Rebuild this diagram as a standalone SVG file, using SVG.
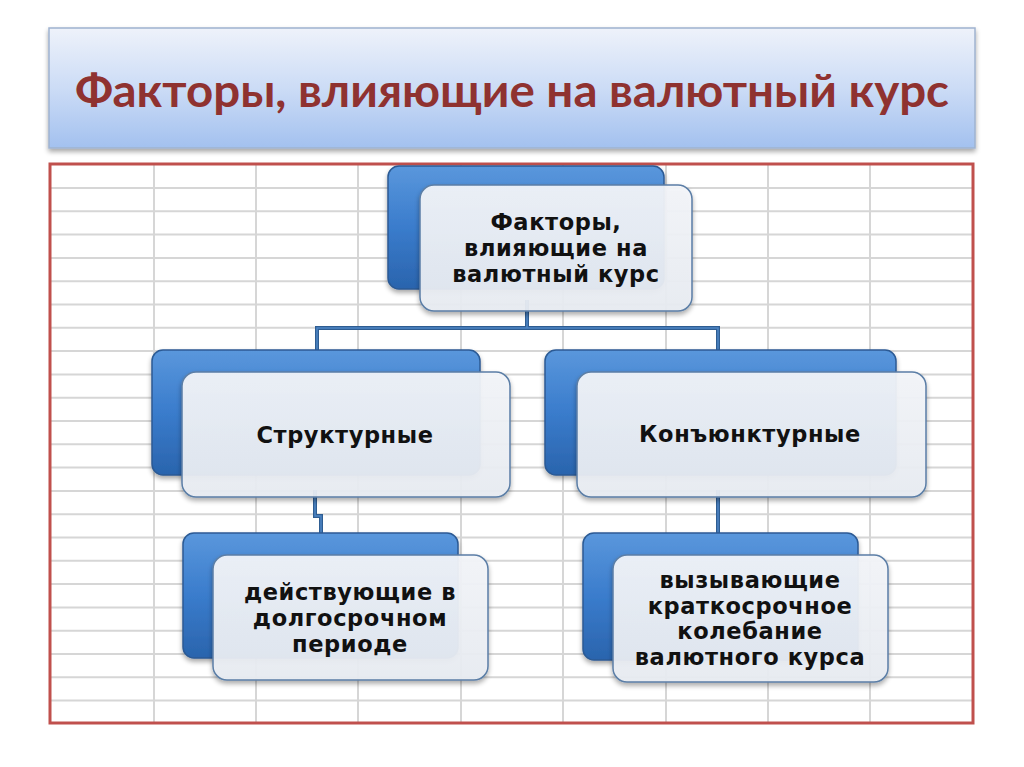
<svg xmlns="http://www.w3.org/2000/svg" width="1024" height="767" viewBox="0 0 1024 767">
<defs>
<linearGradient id="titleG" x1="0" y1="0" x2="0" y2="1">
<stop offset="0" stop-color="#eef2fa"/>
<stop offset="0.5" stop-color="#ccdcf6"/>
<stop offset="1" stop-color="#a3c1ef"/>
</linearGradient>
<linearGradient id="blueG" x1="0" y1="0" x2="0" y2="1">
<stop offset="0" stop-color="#5a97dc"/>
<stop offset="0.5" stop-color="#3a7ccc"/>
<stop offset="1" stop-color="#2a64ad"/>
</linearGradient>
<linearGradient id="whiteG" x1="0" y1="0" x2="0" y2="1">
<stop offset="0" stop-color="#f4f6fa"/>
<stop offset="1" stop-color="#e9edf3"/>
</linearGradient>
<filter id="sh" x="-10%" y="-10%" width="120%" height="130%">
<feGaussianBlur in="SourceAlpha" stdDeviation="2.5"/>
<feOffset dx="0" dy="3" result="b"/>
<feComponentTransfer><feFuncA type="linear" slope="0.35"/></feComponentTransfer>
<feMerge><feMergeNode/><feMergeNode in="SourceGraphic"/></feMerge>
</filter>
</defs>
<style>
.grid line{stroke:#d6d6d6;stroke-width:2}
.back{fill:url(#blueG);stroke:#2c5a94;stroke-width:1.5;filter:url(#sh)}
.front{fill:url(#whiteG);fill-opacity:0.93;stroke:#5b7ea6;stroke-width:1.5;filter:url(#sh)}
.lbl{font-family:"DejaVu Sans",Verdana,sans-serif;font-weight:bold;font-size:22.5px;letter-spacing:0.6px;fill:#111;text-anchor:middle}
.conn{fill:none;stroke:#2e5d92;stroke-width:4}
.conn2{fill:none;stroke:#4f86c6;stroke-width:1.5}
</style>
<rect width="1024" height="767" fill="#ffffff"/>
<g id="title">
<rect x="49" y="28" width="926" height="120" fill="url(#titleG)" stroke="#9fb3cf" stroke-width="1.5" filter="url(#sh)"/>
<text x="512" y="107" font-family="Lato,'Open Sans',sans-serif" font-weight="bold" font-size="45" fill="#8f3230" text-anchor="middle" textLength="874" lengthAdjust="spacingAndGlyphs">Факторы, влияющие на валютный курс</text>
</g>
<g id="panel">
<rect x="50" y="164" width="923" height="559" fill="#ffffff"/>
<g class="grid">
<line x1="154" y1="165" x2="154" y2="722"/>
<line x1="256" y1="165" x2="256" y2="722"/>
<line x1="358" y1="165" x2="358" y2="722"/>
<line x1="461" y1="165" x2="461" y2="722"/>
<line x1="563" y1="165" x2="563" y2="722"/>
<line x1="666" y1="165" x2="666" y2="722"/>
<line x1="768" y1="165" x2="768" y2="722"/>
<line x1="870" y1="165" x2="870" y2="722"/>
<line x1="50" y1="188" x2="972" y2="188"/>
<line x1="50" y1="211.3" x2="972" y2="211.3"/>
<line x1="50" y1="234.6" x2="972" y2="234.6"/>
<line x1="50" y1="257.9" x2="972" y2="257.9"/>
<line x1="50" y1="281.2" x2="972" y2="281.2"/>
<line x1="50" y1="304.5" x2="972" y2="304.5"/>
<line x1="50" y1="327.8" x2="972" y2="327.8"/>
<line x1="50" y1="351.1" x2="972" y2="351.1"/>
<line x1="50" y1="374.4" x2="972" y2="374.4"/>
<line x1="50" y1="397.7" x2="972" y2="397.7"/>
<line x1="50" y1="421" x2="972" y2="421"/>
<line x1="50" y1="444.3" x2="972" y2="444.3"/>
<line x1="50" y1="467.6" x2="972" y2="467.6"/>
<line x1="50" y1="490.9" x2="972" y2="490.9"/>
<line x1="50" y1="514.2" x2="972" y2="514.2"/>
<line x1="50" y1="537.5" x2="972" y2="537.5"/>
<line x1="50" y1="560.8" x2="972" y2="560.8"/>
<line x1="50" y1="584.1" x2="972" y2="584.1"/>
<line x1="50" y1="607.4" x2="972" y2="607.4"/>
<line x1="50" y1="630.7" x2="972" y2="630.7"/>
<line x1="50" y1="654" x2="972" y2="654"/>
<line x1="50" y1="677.3" x2="972" y2="677.3"/>
<line x1="50" y1="700.6" x2="972" y2="700.6"/>
</g>
<rect x="50" y="164" width="923" height="559" fill="none" stroke="#c0504d" stroke-width="3"/>
</g>
<g id="connectors">
<path class="conn" d="M527 300 V328 H317 V360 M527 328 H718 V360"/>
<path class="conn" d="M315 490 V516 H321 V545"/>
<path class="conn" d="M718 490 V545"/>
<path class="conn2" d="M527 300 V328 H317 V360 M527 328 H718 V360"/>
<path class="conn2" d="M315 490 V516 H321 V545"/>
<path class="conn2" d="M718 490 V545"/>
</g>
<g id="node-root">
<rect class="back" x="388" y="166" width="276" height="123" rx="11"/>
<rect class="front" x="420" y="185" width="272" height="126" rx="14"/>
<text class="lbl"><tspan x="556" y="230">Факторы,</tspan><tspan x="556" y="256">влияющие на</tspan><tspan x="556" y="282">валютный курс</tspan></text>
</g>
<g id="node-structural">
<rect class="back" x="152" y="350" width="328" height="125" rx="11"/>
<rect class="front" x="182" y="372" width="328" height="125" rx="14"/>
<text class="lbl" x="345" y="443">Структурные</text>
</g>
<g id="node-conjunctural">
<rect class="back" x="545" y="350" width="351" height="125" rx="11"/>
<rect class="front" x="577" y="372" width="349" height="125" rx="14"/>
<text class="lbl" x="750" y="442">Конъюнктурные</text>
</g>
<g id="node-long">
<rect class="back" x="183" y="533" width="275" height="125" rx="11"/>
<rect class="front" x="213" y="555" width="275" height="125" rx="14"/>
<text class="lbl"><tspan x="350" y="600">действующие в</tspan><tspan x="350" y="626">долгосрочном</tspan><tspan x="350" y="652">периоде</tspan></text>
</g>
<g id="node-short">
<rect class="back" x="583" y="533" width="275" height="127" rx="11"/>
<rect class="front" x="613" y="555" width="275" height="127" rx="14"/>
<text class="lbl"><tspan x="750" y="588">вызывающие</tspan><tspan x="750" y="614">краткосрочное</tspan><tspan x="750" y="639">колебание</tspan><tspan x="750" y="665">валютного курса</tspan></text>
</g>
</svg>
